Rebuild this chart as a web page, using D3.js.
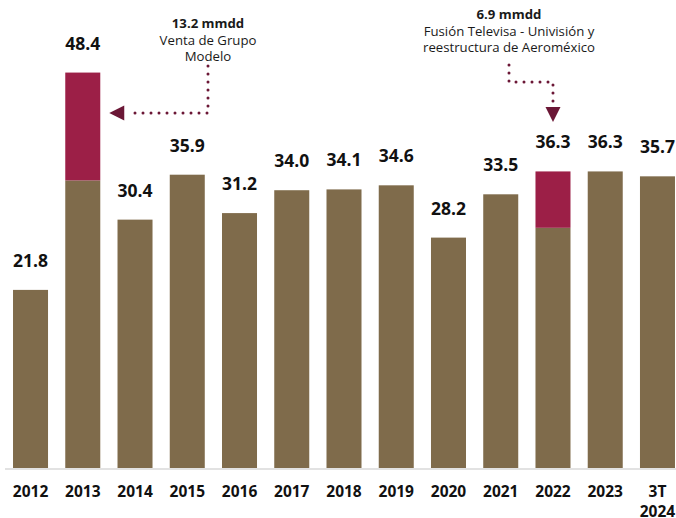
<!DOCTYPE html>
<html>
<head>
<meta charset="utf-8">
<script src="https://cdn.jsdelivr.net/npm/d3@7"></script>
<style>
  body { margin: 0; background: #fff; }
  svg { display: block; font-family: "Open Sans", sans-serif; }
</style>
</head>
<body>
<svg id="chart"></svg>
<script>
const chartSize = { width: 676, height: 518 };

const years = ["2012", "2013", "2014", "2015", "2016", "2017", "2018", "2019", "2020", "2021", "2022", "2023", "3T 2024"];
const totals = [21.8, 48.4, 30.4, 35.9, 31.2, 34.0, 34.1, 34.6, 28.2, 33.5, 36.3, 36.3, 35.7];
const extras = [0, 13.2, 0, 0, 0, 0, 0, 0, 0, 0, 6.9, 0, 0];

const notes = [
  { year: "2013", title: "13.2 mmdd", lines: ["Venta de Grupo", "Modelo"] },
  { year: "2022", title: "6.9 mmdd", lines: ["Fusión Televisa - Univisión y", "reestructura de Aeroméxico"] }
];

const brown = "#7f6b4b";
const maroon = "#9c1f47";
const arrowColor = "#6b1736";

const rows = years.map((year, i) => ({ year, total: totals[i], extra: extras[i], base: totals[i] - extras[i] }));

const svg = d3.select("#chart")
  .attr("width", chartSize.width)
  .attr("height", chartSize.height);

const baseline = 468;

const x = d3.scaleBand()
  .domain(years)
  .range([4.4, 683.6])
  .paddingInner(0.33)
  .paddingOuter(0.165);

const y = d3.scaleLinear()
  .domain([0, 50])
  .range([baseline, baseline - 408.5]);

// axis line
svg.append("line")
  .attr("x1", 5).attr("x2", 676)
  .attr("y1", baseline + 1).attr("y2", baseline + 1)
  .attr("stroke", "#d9d9d9")
  .attr("stroke-width", 1.5);

const bars = svg.append("g").attr("class", "bars");

bars.selectAll("rect.base")
  .data(rows)
  .join("rect")
  .attr("class", "base")
  .attr("x", d => x(d.year))
  .attr("width", x.bandwidth())
  .attr("y", d => y(d.base))
  .attr("height", d => y(0) - y(d.base))
  .attr("fill", brown);

bars.selectAll("rect.extra")
  .data(rows.filter(d => d.extra > 0))
  .join("rect")
  .attr("class", "extra")
  .attr("x", d => x(d.year))
  .attr("width", x.bandwidth())
  .attr("y", d => y(d.total))
  .attr("height", d => y(d.base) - y(d.total))
  .attr("fill", maroon);

// value labels
svg.append("g")
  .selectAll("text")
  .data(rows)
  .join("text")
  .attr("x", d => x(d.year) + x.bandwidth() / 2)
  .attr("y", d => y(d.total) - 23)
  .attr("text-anchor", "middle")
  .attr("font-size", 17.5)
  .attr("font-weight", 700)
  .attr("fill", "#111")
  .text(d => d.total.toFixed(1));

// year labels
const yearLabels = svg.append("g")
  .selectAll("g")
  .data(years)
  .join("g")
  .attr("transform", d => `translate(${x(d) + x.bandwidth() / 2},497)`);

yearLabels.selectAll("text")
  .data(d => d.split(" ").map((t, i) => ({ t, i })))
  .join("text")
  .attr("y", d => d.i * 20)
  .attr("text-anchor", "middle")
  .attr("font-size", 15.5)
  .attr("font-weight", 700)
  .attr("fill", "#111")
  .text(d => d.t);

// annotations
const drawNote = (note, cx, top) => {
  const g = svg.append("g").attr("text-anchor", "middle").attr("fill", "#1a1a1a");
  g.append("text")
    .attr("x", cx).attr("y", top)
    .attr("font-size", 13.2)
    .attr("font-weight", 700)
    .text(note.title);
  note.lines.forEach((line, i) => {
    g.append("text")
      .attr("x", cx).attr("y", top + 16.5 * (i + 1))
      .attr("font-size", 13.2)
      .text(line);
  });
};

const dotted = points => {
  svg.append("path")
    .attr("d", d3.line()(points))
    .attr("fill", "none")
    .attr("stroke", arrowColor)
    .attr("stroke-width", 3)
    .attr("stroke-linecap", "round")
    .attr("stroke-dasharray", "0 8");
};

// note 1: 2013
const n1x = 208;
drawNote(notes[0], n1x, 28);
const b13 = x("2013") + x.bandwidth();
const a1y = 113;
dotted([[n1x, 66], [n1x, a1y], [b13 + 28, a1y]]);
svg.append("path")
  .attr("d", d3.line()([[b13 + 9, a1y], [b13 + 24, a1y - 7.5], [b13 + 24, a1y + 7.5]]) + "Z")
  .attr("fill", arrowColor);

// note 2: 2022
const n2x = 509;
drawNote(notes[1], n2x, 19);
const c22 = x("2022") + x.bandwidth() / 2;
dotted([[n2x, 65], [n2x, 82], [c22, 82], [c22, 102]]);
svg.append("path")
  .attr("d", d3.line()([[c22 - 7.5, 107], [c22 + 7.5, 107], [c22, 122]]) + "Z")
  .attr("fill", arrowColor);
</script>
</body>
</html>
